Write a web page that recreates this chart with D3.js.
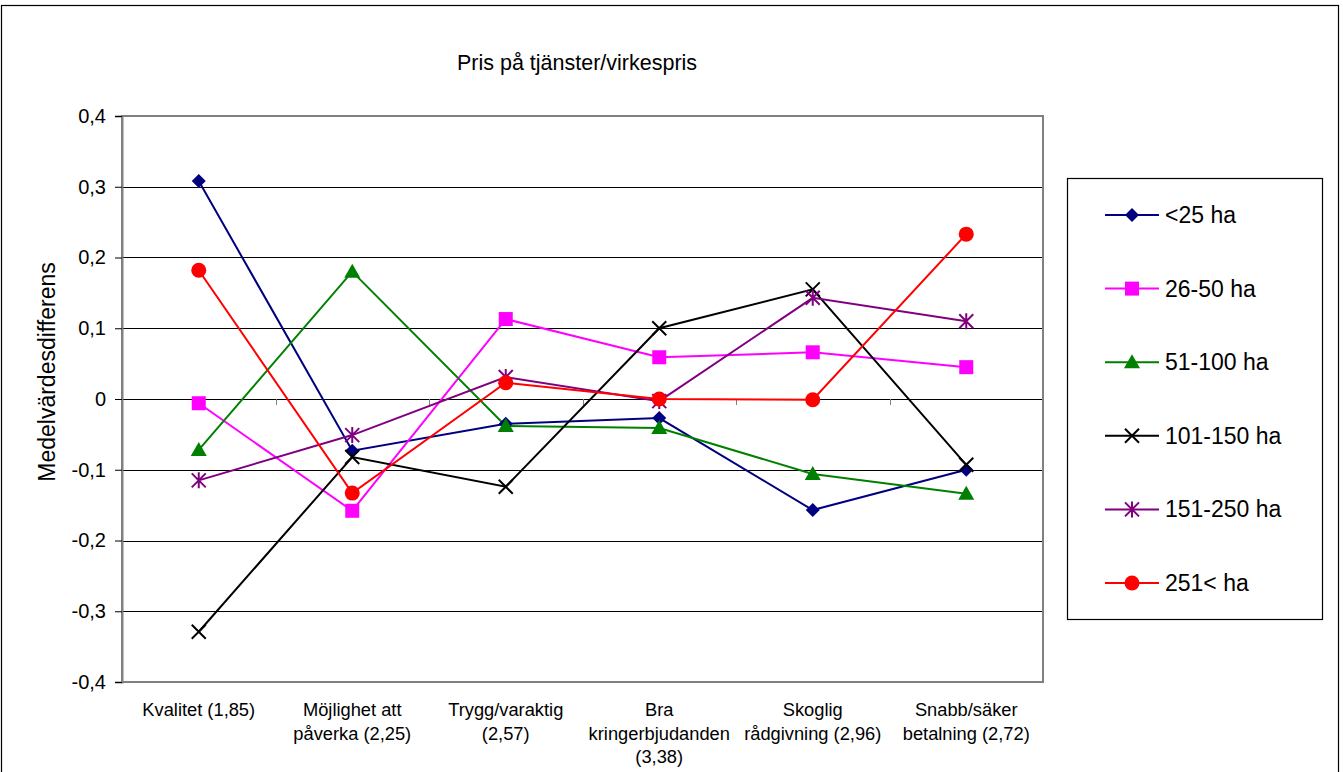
<!DOCTYPE html>
<html><head><meta charset="utf-8">
<script src="https://cdn.jsdelivr.net/npm/d3@7"></script>
<style>body{margin:0;background:#fff;} text{font-family:Arial,"Liberation Sans",sans-serif;}</style>
</head><body>
<svg id="c" width="1343" height="772"></svg>
<script>
const categories = [
  ["Kvalitet (1,85)"],
  ["Möjlighet att", "påverka (2,25)"],
  ["Trygg/varaktig", "(2,57)"],
  ["Bra", "kringerbjudanden", "(3,38)"],
  ["Skoglig", "rådgivning (2,96)"],
  ["Snabb/säker", "betalning (2,72)"]
];
const seriesNames = ["<25 ha", "26-50 ha", "51-100 ha", "101-150 ha", "151-250 ha", "251< ha"];
const colors = ["#000080", "#FF00FF", "#008000", "#000000", "#800080", "#FF0000"];
const markers = ["diamond", "square", "triangle", "x", "asterisk", "circle"];
const v_lt25 = [0.308, -0.073, -0.035, -0.027, -0.157, -0.100];
const v_26_50 = [-0.006, -0.158, 0.113, 0.059, 0.066, 0.045];
const v_51_100 = [-0.072, 0.180, -0.038, -0.041, -0.106, -0.134];
const v_101_150 = [-0.329, -0.082, -0.124, 0.100, 0.155, -0.093];
const v_151_250 = [-0.115, -0.051, 0.031, -0.003, 0.143, 0.110];
const v_251 = [0.182, -0.133, 0.023, 0.000, -0.001, 0.233];
const seriesValues = [v_lt25, v_26_50, v_51_100, v_101_150, v_151_250, v_251];
const yTicks = [-0.4, -0.3, -0.2, -0.1, 0, 0.1, 0.2, 0.3, 0.4];
const title = "Pris på tjänster/virkespris";
const yTitle = "Medelvärdesdifferens";

const svg = d3.select("#c");
const L = 122, R = 1043, T = 116, B = 682;
const x = d3.scaleBand().domain(d3.range(categories.length)).range([L, R]);
const y = d3.scaleLinear().domain([-0.4, 0.4]).range([B, T]);
const fmt = d => d === 0 ? "0" : d.toFixed(1).replace(".", ",");

// outer border
svg.append("rect").attr("x", 1.5).attr("y", 5.5).attr("width", 1337).attr("height", 820)
  .attr("fill", "none").attr("stroke", "#000").attr("stroke-width", 1.2);

// title
svg.append("text").attr("x", 577).attr("y", 70).attr("text-anchor", "middle")
  .attr("font-size", 21.5).text(title);

// gridlines
svg.append("g").selectAll("line").data(yTicks.filter(t => t > -0.4 && t < 0.4)).join("line")
  .attr("x1", L).attr("x2", R).attr("y1", d => Math.round(y(d)) + 0.5).attr("y2", d => Math.round(y(d)) + 0.5)
  .attr("stroke", "#000").attr("stroke-width", 1);

// plot border (gray)
svg.append("rect").attr("x", L).attr("y", T).attr("width", R - L).attr("height", B - T)
  .attr("fill", "none").attr("stroke", "#808080").attr("stroke-width", 2);

// y axis
const yAxis = d3.axisLeft(y).tickValues(yTicks).tickFormat(fmt).tickSize(7).tickPadding(9);
const gy = svg.append("g").attr("transform", `translate(${L},0)`).call(yAxis);
gy.select(".domain").attr("stroke", "#808080").attr("stroke-width", 2);
gy.selectAll(".tick line").attr("stroke", "#000");
gy.selectAll(".tick text").attr("font-size", 20).attr("font-family", "Arial, 'Liberation Sans', sans-serif").attr("fill", "#000");

// x axis at zero with ticks at boundaries
const bounds = d3.range(1, categories.length).map(i => x(i));
svg.append("g").selectAll("line").data(bounds).join("line")
  .attr("x1", d => Math.round(d) + 0.5).attr("x2", d => Math.round(d) + 0.5)
  .attr("y1", y(0)).attr("y2", y(0) + 6).attr("stroke", "#808080");

// category labels
const cl = svg.append("g");
categories.forEach((lines, i) => {
  const t = cl.append("text").attr("x", x(i) + x.bandwidth() / 2).attr("y", 716)
    .attr("text-anchor", "middle").attr("font-size", 18.3);
  lines.forEach((ln, j) => t.append("tspan").attr("x", x(i) + x.bandwidth() / 2).attr("dy", j === 0 ? 0 : 23.5).text(ln));
});

// y title
svg.append("text").attr("transform", `translate(55,${372}) rotate(-90)`).attr("text-anchor", "middle")
  .attr("font-size", 23).text(yTitle);

function drawMarker(g, type, color, cx, cy) {
  const s = 7;
  if (type === "diamond") {
    g.append("path").attr("d", `M${cx},${cy - s}L${cx + s},${cy}L${cx},${cy + s}L${cx - s},${cy}Z`).attr("fill", color);
  } else if (type === "square") {
    g.append("rect").attr("x", cx - 7).attr("y", cy - 7).attr("width", 14).attr("height", 14).attr("fill", color);
  } else if (type === "triangle") {
    g.append("path").attr("d", `M${cx},${cy - 8}L${cx + 8},${cy + 6}L${cx - 8},${cy + 6}Z`).attr("fill", color);
  } else if (type === "circle") {
    g.append("circle").attr("cx", cx).attr("cy", cy).attr("r", 7.5).attr("fill", color);
  } else if (type === "x") {
    g.append("path").attr("d", `M${cx - 7},${cy - 7}L${cx + 7},${cy + 7}M${cx + 7},${cy - 7}L${cx - 7},${cy + 7}`)
      .attr("stroke", color).attr("stroke-width", 2).attr("fill", "none");
  } else if (type === "asterisk") {
    g.append("path").attr("d", `M${cx - 7},${cy - 7}L${cx + 7},${cy + 7}M${cx + 7},${cy - 7}L${cx - 7},${cy + 7}M${cx},${cy - 8}L${cx},${cy + 8}`)
      .attr("stroke", color).attr("stroke-width", 2).attr("fill", "none");
  }
}

const line = d3.line().x((d, i) => x(i) + x.bandwidth() / 2).y(d => y(d));
const gs = svg.append("g");
seriesValues.forEach((vals, k) => {
  gs.append("path").attr("d", line(vals)).attr("fill", "none").attr("stroke", colors[k]).attr("stroke-width", 2);
});
seriesValues.forEach((vals, k) => {
  vals.forEach((v, i) => drawMarker(gs, markers[k], colors[k], x(i) + x.bandwidth() / 2, y(v)));
});

// legend
svg.append("rect").attr("x", 1067.5).attr("y", 178.5).attr("width", 255).attr("height", 441)
  .attr("fill", "#fff").attr("stroke", "#000").attr("stroke-width", 1.2);
const lg = svg.append("g");
seriesNames.forEach((n, k) => {
  const ly = 215 + k * 73.6;
  lg.append("line").attr("x1", 1105).attr("x2", 1159).attr("y1", ly).attr("y2", ly).attr("stroke", colors[k]).attr("stroke-width", 2);
  drawMarker(lg, markers[k], colors[k], 1132, ly);
  lg.append("text").attr("x", 1165).attr("y", ly + 8).attr("font-size", 23).text(n);
});
</script>
</body></html>
